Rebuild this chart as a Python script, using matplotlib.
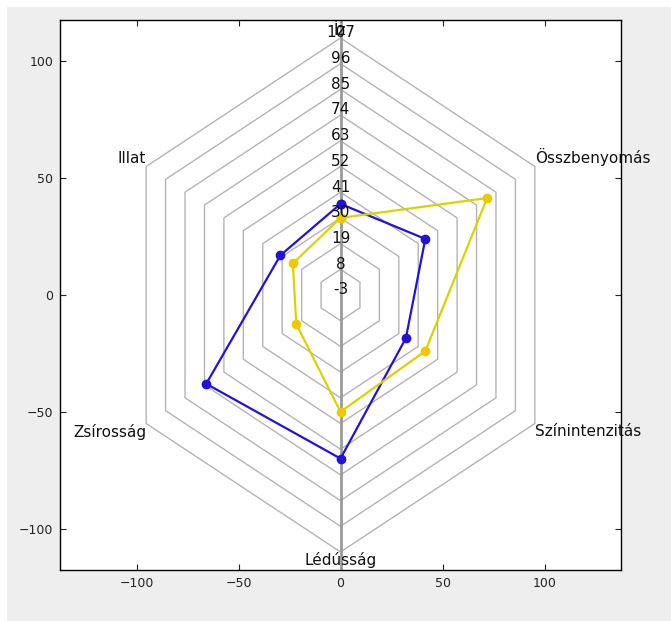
import numpy as np
import matplotlib
matplotlib.use("Agg")
import matplotlib.pyplot as plt
from matplotlib.patches import Rectangle

# -----------------------------
# Data
# -----------------------------
categories = ["Íz", "Összbenyomás", "Színintenzitás", "Lédússág", "Zsírosság", "Illat"]
series_blue = [36, 45, 34, 67, 73, 31]
series_yellow = [30, 80, 45, 47, 22, 24]
levels = [-3, 8, 19, 30, 41, 52, 63, 74, 85, 96, 107]

# -----------------------------
# Geometry helpers
# -----------------------------
v_min = levels[0]
angles = np.deg2rad(90 - 60 * np.arange(len(categories)))


def to_xy(values):
    r = np.asarray(values, dtype=float) - v_min
    x = r * np.cos(angles)
    y = r * np.sin(angles)
    return np.append(x, x[0]), np.append(y, y[0])


# -----------------------------
# Figure
# -----------------------------
fig = plt.figure(figsize=(6.71, 6.21), dpi=100, facecolor="white")
fig.patches.append(Rectangle((7 / 671, 0), 1, 1 - 7 / 621,
                             transform=fig.transFigure, facecolor="#eeeeee",
                             edgecolor="none", zorder=-10))
ax = fig.add_axes([60 / 671, 51 / 621, 561 / 671, 550 / 621])
ax.set_facecolor("white")

# rings
for lv in levels[1:]:
    x, y = to_xy([lv] * len(categories))
    ax.plot(x, y, color="#b4b4b4", lw=1.0, zorder=1)

# vertical spoke
ax.axvline(0, color="#9a9a9a", lw=2, zorder=2)

# level labels
for lv in levels:
    ax.text(0, lv - v_min + 2.2, str(lv), ha="center", va="center",
            fontsize=11, color="#111111", zorder=5)

# category labels
r_out = levels[-1] - v_min
aligns = [("center", "bottom"), ("left", "bottom"), ("left", "top"),
          ("center", "top"), ("right", "top"), ("right", "bottom")]
for cat, a, (ha, va) in zip(categories, angles, aligns):
    ax.text(r_out * np.cos(a), r_out * np.sin(a), cat, ha=ha, va=va,
            fontsize=11, color="#111111", zorder=5)

# series
bx, by = to_xy(series_blue)
ax.plot(bx, by, color="#2411d8", lw=1.6, marker="o", markersize=6,
        markerfacecolor="#2411d8", markeredgecolor="#2411d8", zorder=3)
yx, yy = to_xy(series_yellow)
ax.plot(yx, yy, color="#d8d400", lw=1.6, marker="o", markersize=6,
        markerfacecolor="#eec800", markeredgecolor="#eec800", zorder=4)

# axes styling
ax.set_xlim(-137.5, 137.5)
ax.set_ylim(-117.7, 117.7)
ax.set_xticks([-100, -50, 0, 50, 100])
ax.set_yticks([-100, -50, 0, 50, 100])
ax.tick_params(direction="in", length=4, top=True, right=True,
               labelsize=9, colors="#222222", pad=5)
for s in ax.spines.values():
    s.set_linewidth(1.0)
    s.set_color("black")

plt.savefig("out.png", dpi=100, facecolor=fig.get_facecolor())
